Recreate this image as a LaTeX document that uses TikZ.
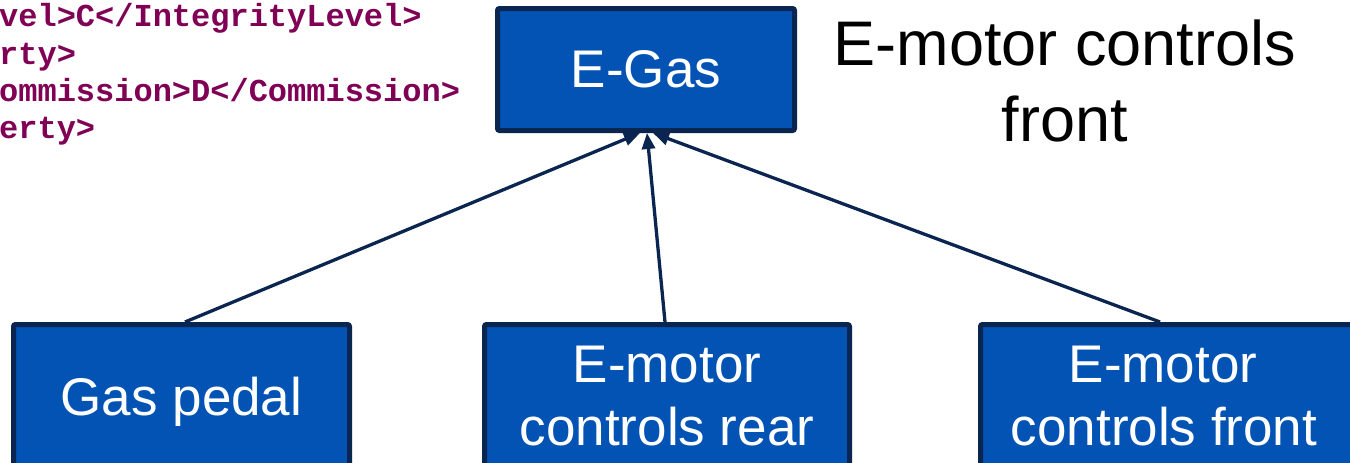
\documentclass[tikz,border=0pt]{standalone}
\usepackage{fontspec}
\setmainfont{Liberation Sans}
\newfontfamily\xmlfont{Liberation Mono}
\usetikzlibrary{arrows.meta}
\definecolor{boxfill}{HTML}{0353B5}
\definecolor{navy}{HTML}{0A2550}
\definecolor{xmlcol}{HTML}{7F0055}
\tikzset{
  blockbox/.style={draw=navy, fill=boxfill, line width=5pt, rounded corners=2pt,
    inner sep=0pt, outer sep=2.5pt, text=white, font=\fontsize{53}{62}\selectfont},
  boxlbl/.style={text=white, inner sep=0pt, anchor=base, font=\fontsize{53}{62}\selectfont},
  titlelbl/.style={text=black, inner sep=0pt, anchor=base, font=\fontsize{63}{76}\selectfont},
  xmlline/.style={text=xmlcol, inner sep=0pt, anchor=base west, font=\xmlfont\bfseries\fontsize{32}{37}\selectfont},
  conn/.style={draw=navy, line width=3.3pt, -{Triangle[length=16pt,width=13pt]}}
}
\begin{document}
\begin{tikzpicture}[x=1pt,y=-1pt]
\useasboundingbox (0,0) rectangle (1350,463);
\clip (0,0) rectangle (1350,463);
% XML fragment
\node[xmlline] (x1) at (-1,27) {vel>C</IntegrityLevel>};
\node[xmlline] (x2) at (-1,64) {rty>};
\node[xmlline] (x3) at (-1,101) {ommission>D</Commission>};
\node[xmlline] (x4) at (-1,138) {erty>};
% title
\node[titlelbl] (t1) at (1065,65) {E-motor controls};
\node[titlelbl] (t2) at (1065,141) {front};
% boxes
\node[blockbox, anchor=north west, minimum width=297pt, minimum height=122pt] (eg) at (495,6) {E-Gas};
\node[blockbox, anchor=north west, minimum width=336pt, minimum height=200pt] (gp) at (11,322) {};
\node[blockbox, anchor=north west, minimum width=365pt, minimum height=200pt] (rear) at (482,322) {};
\node[blockbox, anchor=north west, minimum width=400pt, minimum height=200pt] (front) at (978,322) {};
% labels
\node[boxlbl] (gpl) at (181.5,415) {Gas pedal};
\node[boxlbl] (rl1) at (667,382) {E-motor};
\node[boxlbl] (rl2) at (667,445) {controls rear};
\node[boxlbl] (fl1) at (1163,382) {E-motor};
\node[boxlbl] (fl2) at (1164,445) {controls front};
% connectors
\draw[conn] ([xshift=3.5pt]gp.north) -- ([xshift=-6pt]eg.south);
\draw[conn] ([xshift=-2pt]rear.north) -- ([xshift=1pt]eg.south);
\draw[conn] ([xshift=182pt]front.north west) -- ([xshift=7pt]eg.south);
\end{tikzpicture}
\end{document}
